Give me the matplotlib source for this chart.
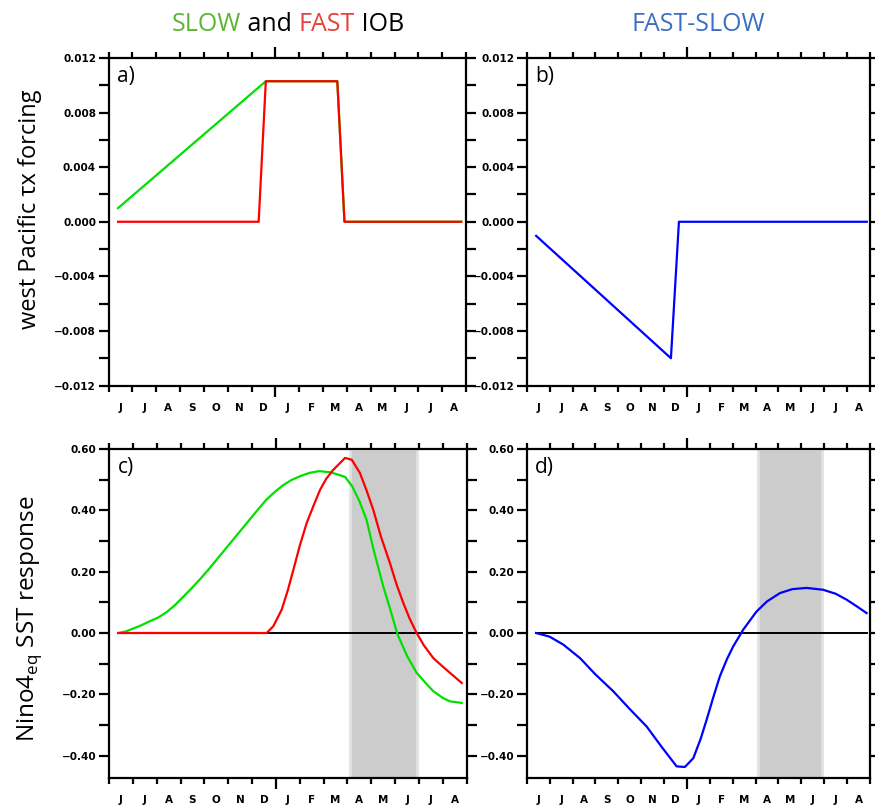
import matplotlib
matplotlib.use("Agg")
import matplotlib.pyplot as plt
from matplotlib.ticker import MultipleLocator

# months since 1 June (x axis runs Jun .. Aug of the next year)
month_labels = ["J", "J", "A", "S", "O", "N", "D", "J", "F", "M", "A", "M", "J", "J", "A"]

# a) west Pacific tau_x forcing
slow_tau_x = [0.4, 6.6, 9.6, 9.9, 14.8]
slow_tau = [0.0010, 0.0103, 0.0103, 0.0, 0.0]
fast_tau_x = [0.4, 6.3, 6.6, 9.6, 9.9, 14.8]
fast_tau = [0.0, 0.0, 0.0103, 0.0103, 0.0, 0.0]

# b) FAST-SLOW forcing
diff_tau_x = [0.41, 6.3, 6.65, 14.86]
diff_tau = [-0.00103, -0.0100, 0.0, 0.0]

# c) Nino4eq SST response
slow_sst_x = [0.39, 0.7, 1.0, 1.35, 1.7, 2.05, 2.4, 2.75, 3.1, 3.45, 3.8, 4.15, 4.5,
              4.85, 5.2, 5.55, 5.9, 6.25, 6.6, 6.95, 7.3, 7.65, 8.0, 8.4, 8.8, 9.3,
              9.9, 10.2, 10.5, 10.8, 11.1, 11.5, 11.8, 12.1, 12.5, 12.9, 13.3, 13.6,
              14.0, 14.3, 14.79]
slow_sst = [0.0, 0.005, 0.014, 0.025, 0.038, 0.050, 0.067, 0.090, 0.117, 0.145, 0.174,
            0.205, 0.238, 0.271, 0.304, 0.337, 0.370, 0.403, 0.435, 0.460, 0.482, 0.499,
            0.511, 0.522, 0.528, 0.524, 0.509, 0.478, 0.430, 0.369, 0.270, 0.152, 0.075,
            -0.005, -0.075, -0.130, -0.165, -0.190, -0.212, -0.223, -0.228]
fast_sst_x = [0.39, 6.61, 6.89, 7.24, 7.5, 7.73, 8.0, 8.29, 8.6, 8.85, 9.1, 9.4, 9.9,
              10.18, 10.52, 10.8, 11.08, 11.4, 11.78, 12.05, 12.34, 12.6, 12.9, 13.2,
              13.6, 14.0, 14.3, 14.79]
fast_sst = [0.0, 0.0, 0.022, 0.076, 0.140, 0.206, 0.285, 0.359, 0.420, 0.467, 0.502,
            0.532, 0.571, 0.565, 0.522, 0.465, 0.402, 0.315, 0.228, 0.160, 0.098, 0.048,
            0.0, -0.040, -0.082, -0.110, -0.130, -0.163]

# d) FAST-SLOW SST response
diff_sst_x = [0.41, 1.0, 1.6, 2.33, 3.0, 3.78, 4.5, 5.24, 5.9, 6.55, 6.91, 7.28, 7.6,
              7.86, 8.15, 8.44, 8.75, 9.02, 9.46, 10.04, 10.5, 11.06, 11.6, 12.23,
              12.95, 13.5, 13.97, 14.4, 14.85]
diff_sst = [0.0, -0.012, -0.038, -0.082, -0.135, -0.190, -0.248, -0.305, -0.372,
            -0.435, -0.437, -0.408, -0.345, -0.283, -0.210, -0.141, -0.085, -0.044,
            0.011, 0.070, 0.103, 0.130, 0.143, 0.147, 0.141, 0.128, 0.109, 0.088, 0.065]

# shaded season
shade_start, shade_end = 10.1, 12.9

GREEN = "#00e000"
RED = "#ff0000"
BLUE = "#0000ff"
TICK_FONT = dict(family="DejaVu Sans", weight="bold", size=7.5)
LABEL_FONT = "Open Sans"


def style_axes(ax, ymin, ymax, major, minor, fmt):
    ax.set_xlim(0, 15)
    ax.set_ylim(ymin, ymax)
    for sp in ax.spines.values():
        sp.set_linewidth(1.6)

    # month boundaries, longer tick at 1 January
    ax.set_xticks([7])
    ax.set_xticks([m for m in range(16) if m != 7], minor=True)
    ax.tick_params(axis="x", which="major", length=8, width=1.6, direction="out",
                   top=True, labelbottom=False)
    ax.tick_params(axis="x", which="minor", length=4.5, width=1.6, direction="out",
                   top=True)
    # month letters sit in the middle of each month
    for i, lab in enumerate(month_labels):
        ax.text(i + 0.5, -0.068, lab, transform=ax.get_xaxis_transform(),
                ha="center", va="center", **TICK_FONT)

    ax.yaxis.set_major_locator(MultipleLocator(major))
    ax.yaxis.set_minor_locator(MultipleLocator(minor))
    ax.tick_params(axis="y", which="both", length=7, width=1.6, direction="out",
                   right=True, pad=2)
    ax.set_yticks(ax.get_yticks())
    ax.set_yticklabels([fmt.format(v).replace("-", "\u2212") for v in ax.get_yticks()],
                       fontdict=TICK_FONT)
    ax.set_ylim(ymin, ymax)


fig = plt.figure(figsize=(8.75, 8.06), dpi=100)
ax_a = fig.add_axes([0.124, 0.5217, 0.4086, 0.4063])
ax_b = fig.add_axes([0.602, 0.5217, 0.3923, 0.4063])
ax_c = fig.add_axes([0.1246, 0.0347, 0.4088, 0.4082])
ax_d = fig.add_axes([0.602, 0.0347, 0.3923, 0.4082])

# a)
ax_a.plot(slow_tau_x, slow_tau, color=GREEN, lw=1.6)
ax_a.plot(fast_tau_x, fast_tau, color=RED, lw=1.6)
style_axes(ax_a, -0.012, 0.012, 0.004, 0.002, "{:.3f}")

# b)
ax_b.plot(diff_tau_x, diff_tau, color=BLUE, lw=1.6)
style_axes(ax_b, -0.012, 0.012, 0.004, 0.002, "{:.3f}")

# c)
ax_c.axvspan(shade_start, shade_end, facecolor="#cccccc", edgecolor="#e2e2e2", lw=2)
ax_c.plot([slow_sst_x[0], slow_sst_x[-1]], [0, 0], color="black", lw=1.4)
ax_c.plot(slow_sst_x, slow_sst, color=GREEN, lw=1.6)
ax_c.plot(fast_sst_x, fast_sst, color=RED, lw=1.6)
style_axes(ax_c, -0.473, 0.60, 0.2, 0.1, "{:.2f}")

# d)
ax_d.axvspan(shade_start, shade_end, facecolor="#cccccc", edgecolor="#e2e2e2", lw=2)
ax_d.plot([diff_sst_x[0], diff_sst_x[-1]], [0, 0], color="black", lw=1.4)
ax_d.plot(diff_sst_x, diff_sst, color=BLUE, lw=1.6)
style_axes(ax_d, -0.473, 0.60, 0.2, 0.1, "{:.2f}")

for ax, lab in zip([ax_a, ax_b, ax_c, ax_d], ["a)", "b)", "c)", "d)"]):
    ax.text(0.025, 0.975, lab, transform=ax.transAxes, ha="left", va="top",
            family=LABEL_FONT, fontsize=15)

# column titles
title_size = 18
title_y = 0.9615
fig.text(0.798, title_y, "FAST-SLOW", color="#3c6fc2", family=LABEL_FONT,
         fontsize=title_size, ha="center", va="baseline")

fig.text(0.034, 0.741, "west Pacific \u03c4x forcing", rotation=90, ha="center",
         va="center", family=LABEL_FONT, fontsize=17)
fig.text(0.034, 0.232, "Nino4$_{\\mathregular{eq}}$ SST response", rotation=90,
         ha="center", va="center", family=LABEL_FONT, fontsize=17.5)

# left title is multi-coloured: place it word by word
fig.canvas.draw()
renderer = fig.canvas.get_renderer()
prev = fig.text(0.1966, title_y, "SLOW", color="#5cb531", family=LABEL_FONT,
                fontsize=title_size, va="baseline")
for word, col in [(" and ", "black"), ("FAST", "#e8403a"), (" IOB", "black")]:
    bb = prev.get_window_extent(renderer)
    x0 = fig.transFigure.inverted().transform((bb.x1, bb.y0))[0]
    prev = fig.text(x0, title_y, word, color=col, family=LABEL_FONT,
                    fontsize=title_size, va="baseline", ha="left")

fig.savefig("out.png", dpi=100)
